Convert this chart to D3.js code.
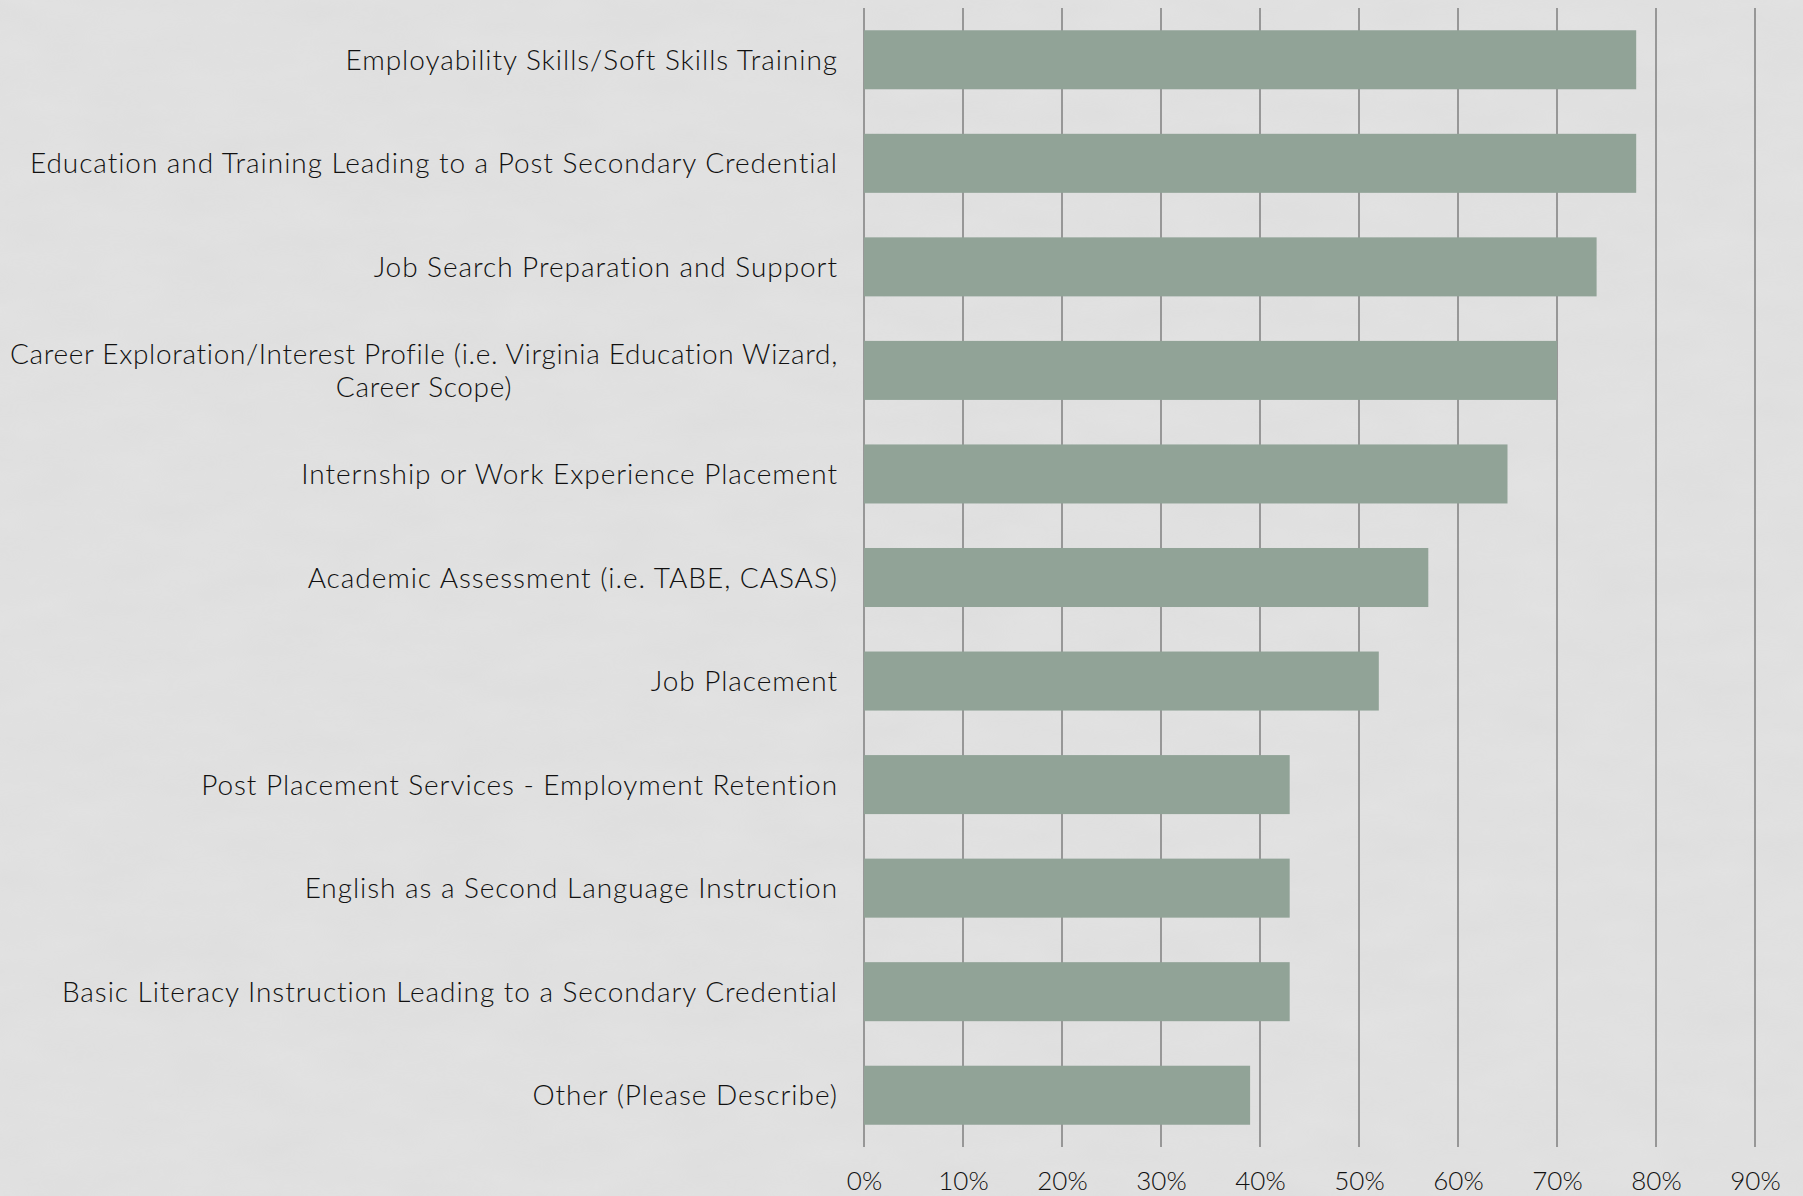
<!DOCTYPE html>
<html>
<head>
<meta charset="utf-8">
<script src="https://cdn.jsdelivr.net/npm/d3@7"></script>
<style>
  html, body { margin: 0; padding: 0; background: #e1e1e1; }
  svg { display: block; }
  text { font-family: Lato, "Noto Sans", sans-serif; fill: #111; }
</style>
</head>
<body>
<svg id="chart" width="1803" height="1196"></svg>
<script>
// Service categories, top to bottom (each entry is a list of lines)
const categories = [
  ["Employability Skills/Soft Skills Training"],
  ["Education and Training Leading to a Post Secondary Credential"],
  ["Job Search Preparation and Support"],
  ["Career Exploration/Interest Profile (i.e. Virginia Education Wizard,", "Career Scope)"],
  ["Internship or Work Experience Placement"],
  ["Academic Assessment (i.e. TABE, CASAS)"],
  ["Job Placement"],
  ["Post Placement Services - Employment Retention"],
  ["English as a Second Language Instruction"],
  ["Basic Literacy Instruction Leading to a Secondary Credential"],
  ["Other (Please Describe)"]
];
// Share of respondents offering each service (%)
const values = [78, 78, 74, 70, 65, 57, 52, 43, 43, 43, 39];
// Axis ticks (%)
const tickValues = [0, 10, 20, 30, 40, 50, 60, 70, 80, 90];

const svg = d3.select("#chart");
const W = 1803, H = 1196;
const plot = { left: 864, right: 1755, top: 8, bottom: 1147 };

// Faint paper texture behind everything
const defs = svg.append("defs");
const f = defs.append("filter").attr("id", "paper")
  .attr("x", 0).attr("y", 0).attr("width", "100%").attr("height", "100%");
f.append("feTurbulence").attr("type", "fractalNoise")
  .attr("baseFrequency", "0.012 0.03").attr("numOctaves", 4).attr("seed", 7);
f.append("feColorMatrix").attr("type", "matrix")
  .attr("values", "0 0 0 0 0.5  0 0 0 0 0.5  0 0 0 0 0.5  0 0 0 -1.1 1.0");
svg.append("rect").attr("width", W).attr("height", H).attr("fill", "#e2e2e2");
svg.append("rect").attr("width", W).attr("height", H)
  .attr("filter", "url(#paper)").attr("opacity", 0.10);

const keys = categories.map((c, i) => i);
const x = d3.scaleLinear().domain([0, 90]).range([plot.left, plot.right]);
const y = d3.scaleBand().domain(keys).range([plot.top, plot.bottom])
  .paddingInner(0.43).paddingOuter(0.215);

// Vertical gridlines
svg.append("g")
  .selectAll("line")
  .data(tickValues)
  .join("line")
  .attr("x1", d => x(d)).attr("x2", d => x(d))
  .attr("y1", plot.top).attr("y2", plot.bottom)
  .attr("stroke", "#858585")
  .attr("stroke-width", 1.6);

// Bars
svg.append("g")
  .selectAll("rect")
  .data(values)
  .join("rect")
  .attr("x", x(0))
  .attr("y", (d, i) => y(i))
  .attr("width", d => x(d) - x(0))
  .attr("height", y.bandwidth())
  .attr("fill", "#91a397");

// Bottom axis labels
const xAxis = d3.axisBottom(x)
  .tickValues(tickValues)
  .tickFormat(d => d + "%")
  .tickSize(0)
  .tickPadding(0);
const gx = svg.append("g")
  .attr("transform", `translate(0,${plot.bottom})`)
  .call(xAxis);
gx.select(".domain").remove();
gx.selectAll("text")
  .attr("dy", null)
  .attr("y", 43)
  .style("font-size", "26px")
  .style("font-weight", 300)
  .style("fill", "#111");

// Category labels, right-aligned against the plot; wrapped labels are centred within their block
const labelRight = plot.left - 26;
const maxLabelWidth = labelRight - 10;
const baseSpacing = 0.95;
const lineH = 33;
const capShift = 10;   // half the cap height, so capitals sit centred on the bar
const labels = svg.append("g")
  .style("font-size", "28px")
  .style("font-weight", 300)
  .style("letter-spacing", baseSpacing + "px");

categories.forEach((lines, i) => {
  const cy = y(i) + y.bandwidth() / 2;
  const g = labels.append("g");
  const texts = lines.map((ln, k) => g.append("text")
    .attr("y", cy + capShift + (k - (lines.length - 1) / 2) * lineH)
    .text(ln));

  // tighten the tracking if the widest line would run past the left margin
  const widest = d3.max(texts, t => t.node().getComputedTextLength());
  const longest = d3.max(lines, ln => ln.length);
  let w = widest;
  if (widest > maxLabelWidth) {
    const s = baseSpacing - (widest - maxLabelWidth) / longest;
    g.style("letter-spacing", s + "px");
    w = d3.max(texts, t => t.node().getComputedTextLength());
  }

  if (lines.length === 1) {
    texts[0].attr("text-anchor", "end").attr("x", labelRight);
  } else {
    const cx = labelRight - w / 2;
    texts.forEach(t => t.attr("text-anchor", "middle").attr("x", cx));
  }
});
</script>
</body>
</html>
